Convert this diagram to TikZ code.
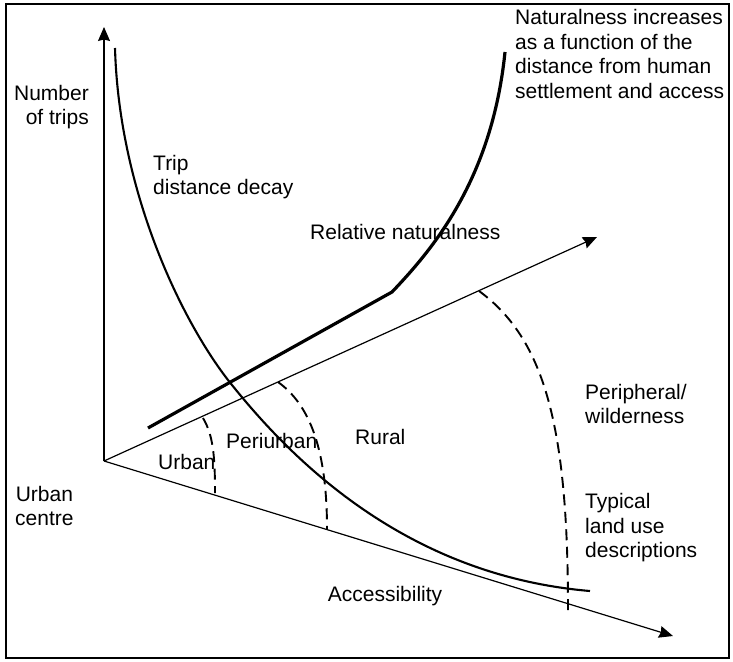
\documentclass[tikz,border=0pt]{standalone}
\usepackage{fontspec}
\setmainfont{Liberation Sans}
\usetikzlibrary{arrows.meta}
\begin{document}
\begin{tikzpicture}[x=1pt,y=-1pt,
  lbl/.style={font=\fontsize{21}{24.5}\selectfont, inner sep=0pt, align=left},
  axis/.style={line width=1.2pt, -{Stealth[length=14pt,width=12pt,inset=1.5pt]}},
  decay/.style={line width=2.1pt},
  natline/.style={line width=3.2pt},
  zone/.style={line width=1.9pt, dash pattern=on 11pt off 6.5pt},
  frame/.style={line width=1.5pt}]
\useasboundingbox (0,0) rectangle (733,661);
\draw[frame] (6,4) rectangle (729,658);

% axes
\coordinate (O) at (104,461);
\coordinate (ytip) at (104,27);
\coordinate (ntip) at (597,237);
\coordinate (atip) at (673,636);
\draw[axis] (O) -- (ytip);
\draw[axis] (O) -- (ntip);
\draw[axis] (O) -- (atip);

% land use zone boundaries
\coordinate (z1a) at (203,418);
\coordinate (z1b) at (215,493);
\coordinate (z2a) at (278,382);
\coordinate (z2b) at (327,529);
\coordinate (z3a) at (479,291);
\coordinate (z3b) at (568,610);
\draw[zone] (z1a) .. controls (213,435) and (215,455) .. (z1b);
\draw[zone] (z2a) .. controls (310,405) and (327,450) .. (z2b);
\draw[zone] (z3a) .. controls (546,340) and (568,430) .. (z3b);

% relative naturalness
\coordinate (n0) at (148,428);
\coordinate (n1) at (392,292);
\coordinate (n2) at (505,52);
\draw[natline] (n0) -- (n1) .. controls (432,250) and (492,180) .. (n2);

% trip distance decay
\coordinate (d0) at (115,48);
\coordinate (d1) at (228,380);
\coordinate (d2) at (590,591);
\draw[decay] (d0) .. controls (119,190) and (180,318) .. (d1)
                  .. controls (285,452) and (400,575) .. (d2);

% labels
\node[lbl, anchor=east, align=right] (num) at (89,107) {Number\\of trips};
\node[lbl, anchor=west] (trip) at (153,177) {Trip\\distance decay};
\node[lbl, anchor=west] (rel) at (310,232) {Relative naturalness};
\node[lbl, anchor=west] (nat) at (515,54) {Naturalness increases\\as a function of the\\distance from human\\settlement and access};
\node[lbl, anchor=west] (urban) at (158,462) {Urban};
\node[lbl, anchor=west] (peri) at (226,441) {Periurban};
\node[lbl, anchor=west] (rural) at (355,437) {Rural};
\node[lbl, anchor=west] (periph) at (585,404) {Peripheral/\\wilderness};
\node[lbl, anchor=west] (typ) at (585,528) {Typical\\land use\\descriptions};
\node[lbl, anchor=west, align=center] (uc) at (15,506) {Urban\\centre};
\node[lbl] (acc) at (385,596) {Accessibility};
\end{tikzpicture}
\end{document}
